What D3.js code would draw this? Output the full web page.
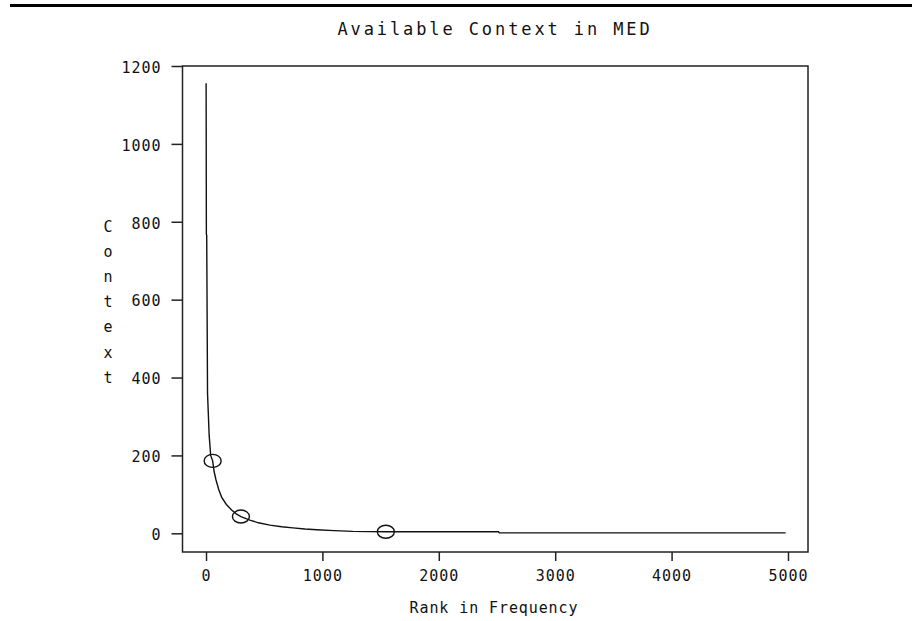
<!DOCTYPE html>
<html>
<head>
<meta charset="utf-8">
<script src="https://cdn.jsdelivr.net/npm/d3@7"></script>
<style>
  body { margin: 0; background: #fff; }
  text { font-family: "DejaVu Sans Mono", monospace; fill: #111; }
</style>
</head>
<body>
<script>
// values
var ranks   = [1, 3, 6, 13, 27, 40, 57, 70, 86, 110, 134, 175, 220, 260, 300, 377, 450, 549, 650, 746, 850, 952, 1100, 1260, 1555, 2000, 2513, 2520, 4980];
var context = [1156, 768, 765, 360, 252, 200, 186, 158, 137, 112, 93, 74, 60, 50, 43, 34, 27, 21, 17, 14, 11, 9, 7, 5, 4, 4, 4, 1, 1];
var markRanks   = [57, 300, 1545];
var markContext = [186, 43, 4];
var xTicks = [0, 1000, 2000, 3000, 4000, 5000];
var yTicks = [0, 200, 400, 600, 800, 1000, 1200];
var title = "Available Context in MED";
var xTitle = "Rank in Frequency";
var yTitle = "Context";

var width = 912, height = 621;
var frame = {left: 182.5, top: 66, right: 808, bottom: 552};

var svg = d3.select("body").append("svg")
    .attr("width", width)
    .attr("height", height);

var xScale = d3.scaleLinear().domain([-202, 5172]).range([frame.left, frame.right]);
var yScale = d3.scaleLinear().domain([-48, 1200]).range([frame.bottom, frame.top]);

// rule across the top of the page
svg.append("line")
    .attr("x1", 10).attr("x2", width)
    .attr("y1", 5.5).attr("y2", 5.5)
    .attr("stroke", "#000")
    .attr("stroke-width", 3);

svg.append("text")
    .attr("x", 495).attr("y", 35)
    .attr("text-anchor", "middle")
    .style("font-size", "17px")
    .style("letter-spacing", "2.9px")
    .text(title);

// frame
svg.append("rect")
    .attr("x", frame.left).attr("y", frame.top)
    .attr("width", frame.right - frame.left)
    .attr("height", frame.bottom - frame.top)
    .attr("fill", "none")
    .attr("stroke", "#222")
    .attr("stroke-width", 1.5);

var yAxis = svg.append("g")
    .attr("transform", "translate(" + frame.left + ",0)")
    .call(d3.axisLeft(yScale).tickValues(yTicks).tickSize(11).tickPadding(10).tickFormat(d3.format("d")));

var xAxis = svg.append("g")
    .attr("transform", "translate(0," + frame.bottom + ")")
    .call(d3.axisBottom(xScale).tickValues(xTicks).tickSize(9).tickPadding(9).tickFormat(d3.format("d")));

[yAxis, xAxis].forEach(function(ax) {
    ax.select(".domain").remove();
    ax.selectAll("line").attr("stroke", "#222").attr("stroke-width", 1.5);
    ax.selectAll("text")
        .style("font-family", "'DejaVu Sans Mono', monospace")
        .style("font-size", "15px")
        .style("letter-spacing", "1px")
        .attr("fill", "#111");
});
yAxis.selectAll("text").attr("dy", "0.75em").attr("y", -5);

svg.append("text")
    .attr("x", 494).attr("y", 613)
    .attr("text-anchor", "middle")
    .style("font-size", "15px")
    .style("letter-spacing", "0.9px")
    .text(xTitle);

// vertical stacked y title
svg.append("g").selectAll("text")
    .data(yTitle.split(""))
    .enter().append("text")
    .attr("x", 108)
    .attr("y", function(d, i) { return 232 + i * 25.1; })
    .attr("text-anchor", "middle")
    .style("font-size", "15px")
    .text(function(d) { return d; });

var points = ranks.map(function(r, i) { return [r, context[i]]; });

svg.append("path")
    .datum(points)
    .attr("fill", "none")
    .attr("stroke", "#111")
    .attr("stroke-width", 1.4)
    .attr("d", d3.line()
        .x(function(d) { return xScale(d[0]); })
        .y(function(d) { return yScale(d[1]); }));

svg.append("g").selectAll("ellipse")
    .data(markRanks)
    .enter().append("ellipse")
    .attr("cx", function(d) { return xScale(d); })
    .attr("cy", function(d, i) { return yScale(markContext[i]); })
    .attr("rx", 8.5)
    .attr("ry", 6.5)
    .attr("fill", "none")
    .attr("stroke", "#111")
    .attr("stroke-width", 1.4);
</script>
</body>
</html>
